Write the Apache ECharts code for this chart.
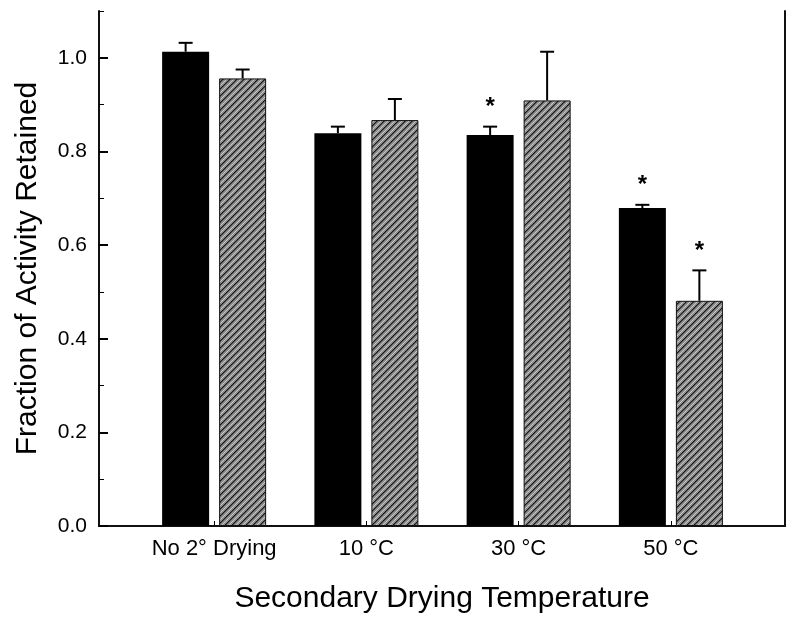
<!DOCTYPE html>
<html>
<head>
<meta charset="utf-8">
<script src="https://cdn.jsdelivr.net/npm/echarts@6/dist/echarts.min.js"></script>
<style>
  html, body { margin: 0; padding: 0; background: #fff; }
  #chart { width: 796px; height: 624px; }
</style>
</head>
<body>
<div id="chart"></div>
<script>
  // data
  const categories = ['No 2° Drying', '10 °C', '30 °C', '50 °C'];
  const blackVals = [1.013, 0.839, 0.835, 0.679];
  const blackErr = [0.019, 0.014, 0.018, 0.007];
  const hatchVals = [0.956, 0.867, 0.909, 0.481];
  const hatchErr = [0.019, 0.045, 0.104, 0.065];
  const blackStar = [false, false, true, true];
  const hatchStar = [false, false, false, true];

  const FONT = '"Liberation Sans", Arial, sans-serif';
  const BAR_W = 47;
  const BAR_GAP = 10;

  // grey fill with dark "/" stripes
  const makeHatch = () => {
    const n = 7;
    const cv = document.createElement('canvas');
    cv.width = n; cv.height = n;
    const ctx = cv.getContext('2d');
    const img = ctx.createImageData(n, n);
    for (let y = 0; y < n; y++) {
      for (let x = 0; x < n; x++) {
        const k = (x + y) % n;
        let g = 140;
        if (k === 0) g = 25;
        else if (k === 1) g = 80;
        else if (k === 4) g = 200;
        const i = (y * n + x) * 4;
        img.data[i] = g; img.data[i + 1] = g; img.data[i + 2] = g; img.data[i + 3] = 255;
      }
    }
    ctx.putImageData(img, 0, 0);
    return cv;
  };

  const errData = (vals, errs, stars) => vals.map((v, i) => [i, v, errs[i], stars[i] ? 1 : 0]);

  const errSeries = (data, side) => ({
    type: 'custom',
    xAxisIndex: 2,
    yAxisIndex: 3,
    z: 5,
    data: data,
    renderItem: (params, api) => {
      const x = api.value(0), v = api.value(1), e = api.value(2), star = api.value(3);
      const off = side * (BAR_W + BAR_GAP) / 2;
      const p0 = api.coord([x, v]);
      const p1 = api.coord([x, v + e]);
      const cx = p0[0] + off;
      const style = { stroke: '#000', lineWidth: 2 };
      const children = [
        { type: 'line', shape: { x1: cx, y1: p0[1], x2: cx, y2: p1[1] }, style },
        { type: 'line', shape: { x1: cx - 7, y1: p1[1], x2: cx + 7, y2: p1[1] }, style }
      ];
      if (star) {
        children.push({
          type: 'text',
          style: {
            text: '*', x: cx, y: p1[1] - 7,
            align: 'center', verticalAlign: 'bottom',
            font: 'bold 24px ' + FONT, fill: '#000'
          }
        });
      }
      return { type: 'group', children };
    }
  });

  const chart = echarts.init(document.getElementById('chart'));
  const axisLine = { show: true, lineStyle: { color: '#111', width: 2 } };

  const option = {
    animation: false,
    grid: [
      { left: 99, right: 11, top: 11, bottom: 98 },
      { left: 138, right: 49, top: 11, bottom: 98 }
    ],
    xAxis: [
      {
        type: 'value', gridIndex: 0, min: 0, max: 1, position: 'bottom',
        axisLine, axisTick: { show: false }, axisLabel: { show: false }, splitLine: { show: false },
        name: 'Secondary Drying Temperature', nameLocation: 'middle', nameGap: 58,
        nameTextStyle: { fontFamily: FONT, fontSize: 30, color: '#000' }
      },
      {
        type: 'value', gridIndex: 0, min: 0, max: 1, position: 'top',
        axisLine, axisTick: { show: false }, axisLabel: { show: false }, splitLine: { show: false }
      },
      {
        type: 'category', gridIndex: 1, data: categories,
        axisLine: { show: false },
        axisTick: { show: true, interval: 0, inside: true, alignWithLabel: true, length: 5, lineStyle: { color: '#000', width: 1 } },
        axisLabel: { interval: 0, fontFamily: FONT, fontSize: 22, color: '#000', margin: 12 }
      }
    ],
    yAxis: [
      {
        type: 'value', gridIndex: 0, min: 0, max: 1.1, interval: 0.2, position: 'left',
        axisLine,
        axisTick: { show: true, inside: true, length: 9, lineStyle: { color: '#000', width: 2 } },
        axisLabel: {
          fontFamily: FONT, fontSize: 21, color: '#000', margin: 12, showMaxLabel: false,
          formatter: (v) => v.toFixed(1)
        },
        splitLine: { show: false },
        name: 'Fraction of Activity Retained', nameLocation: 'middle', nameGap: 56,
        nameTextStyle: { fontFamily: FONT, fontSize: 30, color: '#000' }
      },
      {
        type: 'value', gridIndex: 0, min: 0, max: 1.1, interval: 0.1, position: 'left',
        axisLine: { show: false },
        axisTick: { show: true, inside: true, length: 5, lineStyle: { color: '#000', width: 1 } },
        axisLabel: { show: false }, splitLine: { show: false }
      },
      {
        type: 'value', gridIndex: 0, min: 0, max: 1.1, position: 'right',
        axisLine, axisTick: { show: false }, axisLabel: { show: false }, splitLine: { show: false }
      },
      {
        type: 'value', gridIndex: 1, min: 0, max: 1.1, show: false
      }
    ],
    series: [
      {
        type: 'bar', xAxisIndex: 2, yAxisIndex: 3, data: blackVals,
        barWidth: BAR_W, barGap: (BAR_GAP / BAR_W * 100) + '%',
        itemStyle: { color: '#000' }
      },
      {
        type: 'bar', xAxisIndex: 2, yAxisIndex: 3, data: hatchVals,
        barWidth: BAR_W,
        itemStyle: {
          color: { image: makeHatch(), repeat: 'repeat' },
          borderColor: '#111', borderWidth: 1
        }
      },
      errSeries(errData(blackVals, blackErr, blackStar), -1),
      errSeries(errData(hatchVals, hatchErr, hatchStar), 1)
    ]
  };

  chart.setOption(option);
</script>
</body>
</html>
